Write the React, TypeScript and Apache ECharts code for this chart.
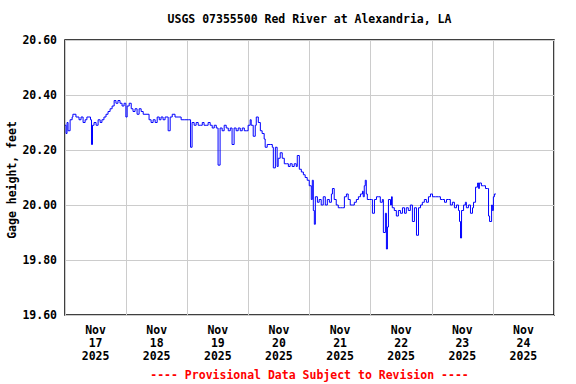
import React, { useEffect, useRef } from "react";
import * as echarts from "echarts";

const chartTitle = "USGS 07355500 Red River at Alexandria, LA";
const yAxisTitle = "Gage height, feet";
const footerNote = "---- Provisional Data Subject to Revision ----";
const dayLabels = ["17", "18", "19", "20", "21", "22", "23", "24"];
const monthLabel = "Nov";
const yearLabel = "2025";

// hours since Nov 17 2025 00:00
const hoursSinceStart = [
  0, 0.4, 0.8, 1.2, 2.0, 2.8, 3.1, 4.3, 5.5, 6.3, 7.1, 7.9, 8.6, 9.4, 10.0, 10.4, 10.8, 11.4, 12.2, 13.0,
  13.8, 14.5, 15.3, 16.1, 16.9, 17.7, 18.5, 19.3, 20.0, 20.8, 21.6, 22.4, 23.2, 23.9, 24.4, 25.2, 26.0, 26.7, 27.5, 28.3,
  29.1, 29.9, 30.7, 31.4, 32.2, 33.0, 33.8, 34.6, 35.4, 36.2, 37.0, 37.7, 38.5, 39.3, 40.5, 41.3, 42.1, 43.2, 44.4, 45.6,
  46.8, 48.4, 49.3, 49.9, 50.7, 51.5, 52.3, 53.1, 53.9, 54.6, 55.4, 56.2, 57.0, 57.8, 58.6, 59.4, 60.1, 60.9, 61.7, 62.5,
  63.3, 64.1, 64.9, 65.6, 66.4, 67.2, 68.0, 68.8, 69.6, 70.4, 71.2, 71.9, 72.7, 73.1, 73.9, 74.7, 75.1, 75.9, 76.7, 77.4,
  78.2, 78.6, 79.4, 80.6, 81.4, 81.8, 82.6, 83.3, 83.7, 84.5, 85.3, 86.1, 86.9, 87.7, 88.4, 89.2, 90.0, 90.8, 91.2, 92.0,
  92.8, 93.6, 94.3, 95.1, 95.9, 96.7, 97.1, 97.5, 97.9, 98.3, 99.1, 99.8, 100.6, 101.4, 102.2, 103.0, 103.8, 104.6, 105.0, 105.7,
  106.5, 107.3, 108.1, 108.9, 109.7, 110.5, 111.2, 112.0, 112.8, 113.6, 114.4, 115.2, 116.0, 116.8, 117.1, 117.5, 117.9, 118.3, 118.7, 119.5,
  120.3, 120.7, 121.5, 122.3, 123.0, 123.8, 124.6, 125.0, 125.8, 126.2, 126.6, 127.0, 127.8, 128.2, 128.5, 129.3, 130.1, 130.9, 131.7, 132.5,
  133.3, 134.0, 134.8, 135.6, 136.4, 137.2, 138.0, 138.8, 139.6, 140.3, 141.1, 141.9, 142.7, 143.5, 144.3, 145.4, 146.6, 147.4, 148.2, 149.0,
  149.8, 150.6, 151.3, 152.1, 152.9, 153.7, 154.5, 154.9, 155.3, 155.7, 156.5, 157.2, 157.6, 158.4, 159.2, 160.0, 160.4, 161.2, 162.0, 162.4,
  162.7, 163.5, 164.3, 165.1, 165.9, 166.3, 166.7, 167.5, 167.8, 168.2, 168.6, 169.2,
];

const gageHeight = [
  20.29, 20.26, 20.30, 20.27, 20.31, 20.32, 20.33, 20.32, 20.31, 20.32, 20.30, 20.31, 20.32, 20.32, 20.31, 20.22, 20.29, 20.30, 20.29, 20.31,
  20.30, 20.31, 20.32, 20.33, 20.34, 20.35, 20.36, 20.38, 20.37, 20.38, 20.37, 20.36, 20.37, 20.32, 20.36, 20.37, 20.35, 20.34, 20.35, 20.33,
  20.35, 20.34, 20.33, 20.33, 20.33, 20.31, 20.30, 20.31, 20.30, 20.32, 20.31, 20.32, 20.31, 20.32, 20.27, 20.32, 20.33, 20.32, 20.32, 20.31,
  20.31, 20.31, 20.21, 20.30, 20.29, 20.30, 20.29, 20.29, 20.30, 20.29, 20.29, 20.30, 20.29, 20.28, 20.29, 20.28, 20.145, 20.28, 20.27, 20.29,
  20.28, 20.27, 20.28, 20.22, 20.28, 20.27, 20.28, 20.27, 20.28, 20.27, 20.27, 20.29, 20.31, 20.29, 20.25, 20.29, 20.32, 20.30, 20.27, 20.26,
  20.24, 20.21, 20.22, 20.22, 20.21, 20.135, 20.21, 20.14, 20.17, 20.19, 20.17, 20.15, 20.15, 20.14, 20.15, 20.14, 20.15, 20.14, 20.18, 20.13,
  20.12, 20.11, 20.10, 20.09, 20.07, 20.02, 20.09, 19.98, 19.93, 20.03, 20.01, 20.02, 20.00, 20.03, 20.00, 20.02, 20.01, 20.04, 20.06, 20.02,
  20.00, 19.99, 19.99, 19.99, 20.03, 20.04, 20.02, 20.00, 20.00, 20.01, 20.02, 20.03, 20.04, 20.05, 20.03, 20.07, 20.09, 20.04, 20.02, 20.02,
  20.02, 19.97, 20.02, 20.03, 20.03, 20.01, 20.02, 19.90, 19.97, 19.84, 19.92, 20.02, 20.00, 20.03, 19.99, 19.98, 19.96, 19.98, 19.97, 19.99,
  19.97, 19.99, 19.98, 20.00, 19.94, 19.99, 19.89, 19.99, 20.00, 20.01, 20.02, 20.01, 20.03, 20.04, 20.03, 20.03, 20.03, 20.02, 20.02, 20.01,
  20.02, 20.02, 20.00, 20.01, 19.99, 20.00, 19.98, 19.94, 19.88, 19.98, 20.00, 20.01, 19.99, 20.00, 19.97, 19.99, 20.01, 20.065, 20.08, 20.06,
  20.08, 20.07, 20.07, 20.06, 20.06, 19.96, 19.94, 20.00, 19.98, 20.03, 20.04, 20.04,
];

const FONT = "'DejaVu Sans Mono', monospace";

export default function App() {
  const ref = useRef<HTMLDivElement>(null);
  useEffect(() => {
    if (!ref.current) return;
    const chart = echarts.init(ref.current, null, { renderer: "svg" });
    const seriesData = hoursSinceStart.map((h, i) => [h, gageHeight[i]]);
    const totalHours = dayLabels.length * 24;
    chart.setOption({
      animation: false,
      backgroundColor: "#ffffff",
      grid: {
        left: 65,
        right: 22,
        top: 40,
        bottom: 69,
        outerBoundsMode: "none",
        containLabel: false,
        show: true,
        borderColor: "#000000",
        borderWidth: 1.5,
        backgroundColor: "#ffffff",
      },
      xAxis: [
        {
          type: "value",
          min: 0,
          max: totalHours,
          interval: 24,
          axisLine: { show: false },
          axisTick: { show: false },
          axisLabel: { show: false },
          splitLine: { show: true, lineStyle: { color: "#cccccc", width: 1 } },
        },
        {
          type: "value",
          position: "bottom",
          min: 0,
          max: totalHours,
          interval: 12,
          axisLine: { show: false },
          axisTick: { show: false },
          splitLine: { show: false },
          axisLabel: {
            show: true,
            margin: 8,
            fontFamily: FONT,
            fontWeight: "bold",
            fontSize: 11.5,
            lineHeight: 13,
            color: "#000000",
            showMinLabel: true,
            showMaxLabel: true,
            formatter: (v: number) => {
              if (Math.round(v) % 24 !== 12) return "";
              const idx = Math.floor(v / 24);
              return `${monthLabel}\n${dayLabels[idx]}\n${yearLabel}`;
            },
          },
        },
      ],
      yAxis: {
        type: "value",
        min: 19.6,
        max: 20.6,
        interval: 0.2,
        axisLine: { show: false },
        axisTick: { show: false },
        axisLabel: {
          margin: 8,
          fontFamily: FONT,
          fontWeight: "bold",
          fontSize: 11.5,
          color: "#000000",
          formatter: (v: number) => v.toFixed(2),
        },
        splitLine: { show: true, lineStyle: { color: "#cccccc", width: 1 } },
      },
      series: [
        {
          type: "line",
          xAxisIndex: 0,
          data: seriesData,
          step: "end",
          showSymbol: false,
          lineStyle: { color: "#0000ff", width: 1 },
        },
      ],
      graphic: [
        {
          type: "text",
          x: 309.5,
          y: 19,
          style: {
            text: chartTitle,
            fontFamily: FONT,
            fontWeight: "bold",
            fontSize: 11.5,
            fill: "#000000",
            textAlign: "center",
            textVerticalAlign: "middle",
          },
        },
        {
          type: "text",
          x: 12,
          y: 180,
          rotation: Math.PI / 2,
          style: {
            text: yAxisTitle,
            fontFamily: FONT,
            fontWeight: "bold",
            fontSize: 11.5,
            fill: "#000000",
            textAlign: "center",
            textVerticalAlign: "middle",
          },
        },
        {
          type: "text",
          x: 309.5,
          y: 375,
          style: {
            text: footerNote,
            fontFamily: FONT,
            fontWeight: "bold",
            fontSize: 11.5,
            fill: "#ff0000",
            textAlign: "center",
            textVerticalAlign: "middle",
          },
        },
      ],
    });
    return () => chart.dispose();
  }, []);
  return (
    <div
      ref={ref}
      style={{ position: "fixed", left: 0, top: 0, width: 576, height: 384, background: "#ffffff" }}
    />
  );
}
